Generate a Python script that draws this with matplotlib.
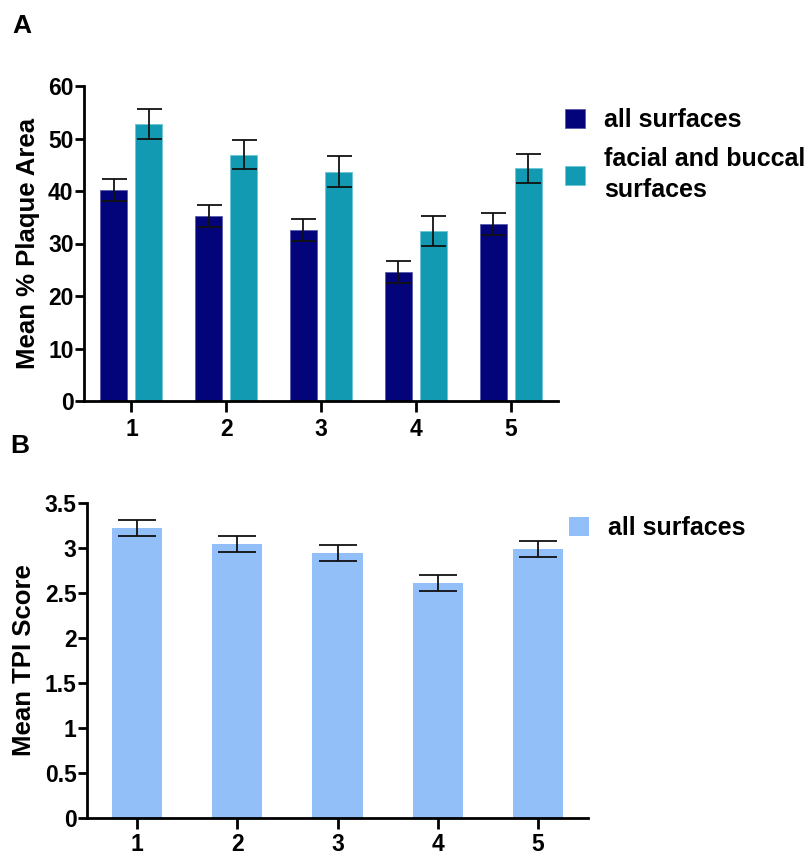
import matplotlib.pyplot as plt
import numpy as np

plt.rcParams["font.family"] = ["Liberation Sans", "DejaVu Sans"]
plt.rcParams["font.weight"] = "bold"

groups = ["1", "2", "3", "4", "5"]

# panel A: mean % plaque area
plaque_all = [40.2, 35.3, 32.5, 24.6, 33.8]
plaque_all_err = [2.1, 2.1, 2.1, 2.1, 2.1]
plaque_facial = [52.8, 46.9, 43.7, 32.4, 44.3]
plaque_facial_err = [2.8, 2.8, 2.9, 2.9, 2.8]

# panel B: mean TPI score
tpi_all = [3.22, 3.04, 2.94, 2.61, 2.99]
tpi_all_err = [0.09, 0.09, 0.09, 0.09, 0.09]

c_dark = "#03037A"
c_teal = "#129AB2"
c_light = "#92BFF8"

W, H = 809, 856
fig = plt.figure(figsize=(W / 100, H / 100), dpi=100)


def style_axes(ax, xpad=4):
    for s in ["top", "right"]:
        ax.spines[s].set_visible(False)
    for s in ["left", "bottom"]:
        ax.spines[s].set_linewidth(2.0)
    ax.tick_params(axis="y", length=6.5, width=2.0, labelsize=16.5, pad=1)
    ax.tick_params(axis="x", length=8, width=2.0, labelsize=16.5, pad=xpad)
    for lab in ax.get_xticklabels() + ax.get_yticklabels():
        lab.set_fontweight("bold")


def add_legend(ax, x_px, y_px):
    leg = ax.legend(loc="upper left", bbox_to_anchor=(x_px / W, 1 - y_px / H),
                    bbox_transform=fig.transFigure, frameon=False, fontsize=18,
                    handlelength=0.8, handleheight=0.8, handletextpad=0.75,
                    labelspacing=0.6, borderpad=0, borderaxespad=0)
    for t in leg.get_texts():
        t.set_linespacing(1.35)
    return leg


x = np.arange(1, len(groups) + 1)

# ---- panel A ----
axA = fig.add_axes([84 / W, 1 - 401 / H, (558 - 84) / W, (401 - 86) / H])
bw = 0.285
off = 0.185
axA.bar(x - off, plaque_all, bw, color=c_dark, edgecolor="#5a5ab0", linewidth=0.6,
        label="all surfaces")
axA.bar(x + off, plaque_facial, bw, color=c_teal, edgecolor="#6cc6d6", linewidth=0.6,
        label="facial and buccal\nsurfaces")
axA.errorbar(x - off, plaque_all, yerr=plaque_all_err, fmt="none", ecolor="#111111",
             elinewidth=1.3, capsize=9, capthick=1.3)
axA.errorbar(x + off, plaque_facial, yerr=plaque_facial_err, fmt="none", ecolor="#111111",
             elinewidth=1.3, capsize=9, capthick=1.3)
axA.set_xlim(0.5, 5.5)
axA.set_ylim(0, 60)
axA.set_yticks(range(0, 61, 10))
axA.set_xticks(x)
axA.set_xticklabels(groups)
axA.set_ylabel("Mean % Plaque Area", fontsize=18.5, fontweight="bold", labelpad=6)
style_axes(axA)
add_legend(axA, 565, 108)
fig.text(12 / W, 1 - 33 / H, "A", fontsize=19, fontweight="bold")

# ---- panel B ----
axB = fig.add_axes([87 / W, 1 - 818.3 / H, (588 - 87) / W, (818.3 - 502.7) / H])
axB.bar(x, tpi_all, 0.5, color=c_light, label="all surfaces")
axB.errorbar(x, tpi_all, yerr=tpi_all_err, fmt="none", ecolor="#111111",
             elinewidth=1.3, capsize=14, capthick=1.3)
axB.set_xlim(0.5, 5.5)
axB.set_ylim(0, 3.5)
yt = np.arange(0, 3.51, 0.5)
axB.set_yticks(yt)
axB.set_yticklabels(["0", "0.5", "1", "1.5", "2", "2.5", "3", "3.5"])
axB.set_xticks(x)
axB.set_xticklabels(groups)
axB.set_ylabel("Mean TPI Score", fontsize=18.5, fontweight="bold", labelpad=6)
style_axes(axB, xpad=2.5)
add_legend(axB, 569, 516)
fig.text(10 / W, 1 - 453 / H, "B", fontsize=19, fontweight="bold")

fig.savefig("out.png", dpi=100)
